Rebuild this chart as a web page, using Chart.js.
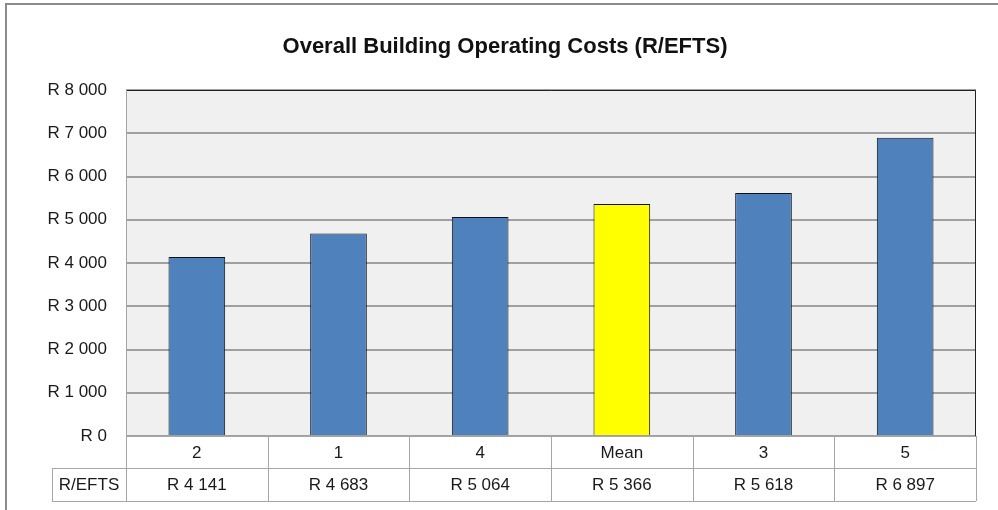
<!DOCTYPE html>
<html>
<head>
<meta charset="utf-8">
<script src="https://cdn.jsdelivr.net/npm/chart.js@4"></script>
<style>
  body { margin: 0; background: #fff; }
  #wrap { width: 998px; height: 510px; }
</style>
</head>
<body>
<div id="wrap"><canvas id="costChart" width="998" height="510"></canvas></div>
<script>
const categories = ['2', '1', '4', 'Mean', '3', '5'];
const costs = [4141, 4683, 5064, 5366, 5618, 6897];
const rowLabel = 'R/EFTS';
const yTicks = [0, 1000, 2000, 3000, 4000, 5000, 6000, 7000, 8000];

const FONT = "'Liberation Sans Narrow', 'Arial Narrow', 'Liberation Sans', Arial, sans-serif";

function rand(v) {
    // "R 5 366" style
    return 'R ' + String(v).replace(/\B(?=(\d{3})+(?!\d))/g, ' ');
}

const barColors = categories.map(c => c === 'Mean' ? '#ffff00' : '#4f81bd');

// plot background, outer frame and the data table under the axis
const tablePlugin = {
    id: 'tablePlugin',
    beforeDraw(chart) {
        const { ctx, chartArea: a } = chart;
        ctx.save();
        ctx.fillStyle = '#f0f0f0';
        ctx.fillRect(a.left, a.top, a.right - a.left, a.bottom - a.top);
        ctx.strokeStyle = '#8c8c8c';
        ctx.lineWidth = 2;
        ctx.beginPath();
        ctx.moveTo(6, 600);
        ctx.lineTo(6, 4);
        ctx.lineTo(1000, 4);
        ctx.stroke();
        ctx.restore();
    },
    afterDraw(chart) {
        const { ctx, chartArea: a } = chart;
        const x = chart.scales.x;
        const step = (a.right - a.left) / categories.length;
        const r1 = a.bottom, r2 = a.bottom + 32, r3 = a.bottom + 65;
        const hdrLeft = 52;
        ctx.save();
        ctx.strokeStyle = '#a6a6a6';
        ctx.lineWidth = 1;
        ctx.beginPath();
        ctx.moveTo(a.left, r1 + 0.5); ctx.lineTo(a.right, r1 + 0.5);
        ctx.moveTo(hdrLeft, r2 + 0.5); ctx.lineTo(a.right, r2 + 0.5);
        ctx.moveTo(hdrLeft, r3 + 0.5); ctx.lineTo(a.right, r3 + 0.5);
        ctx.moveTo(hdrLeft + 0.5, r2); ctx.lineTo(hdrLeft + 0.5, r3);
        for (let i = 0; i <= categories.length; i++) {
            const px = Math.round(a.left + i * step) + 0.5;
            ctx.moveTo(px, r1); ctx.lineTo(px, r3);
        }
        ctx.stroke();

        // plot border: dark top and right, grey left
        ctx.strokeStyle = '#222';
        ctx.beginPath();
        ctx.moveTo(a.left, a.top + 0.5); ctx.lineTo(a.right - 0.5, a.top + 0.5); ctx.lineTo(a.right - 0.5, a.bottom);
        ctx.stroke();
        ctx.strokeStyle = '#a6a6a6';
        ctx.beginPath();
        ctx.moveTo(a.left + 0.5, a.top); ctx.lineTo(a.left + 0.5, a.bottom);
        ctx.stroke();

        ctx.fillStyle = '#1a1a1a';
        ctx.font = '17px ' + FONT;
        ctx.textAlign = 'center';
        ctx.textBaseline = 'middle';
        categories.forEach((c, i) => {
            const cx = x.getPixelForValue(i);
            ctx.fillText(c, cx, (r1 + r2) / 2 + 1);
            ctx.fillText(rand(costs[i]), cx, (r2 + r3) / 2 + 1);
        });
        ctx.fillText(rowLabel, (hdrLeft + a.left) / 2, (r2 + r3) / 2 + 1);
        ctx.restore();
    }
};

new Chart(document.getElementById('costChart'), {
    type: 'bar',
    data: {
        labels: categories,
        datasets: [{
            label: rowLabel,
            data: costs,
            backgroundColor: barColors,
            borderColor: '#111',
            borderWidth: 1,
            categoryPercentage: 1,
            barPercentage: 0.4
        }]
    },
    options: {
        responsive: false,
        animation: false,
        layout: { padding: { left: 34, right: 22, top: 0, bottom: 8 } },
        plugins: {
            legend: { display: false },
            tooltip: { enabled: false },
            title: {
                display: true,
                text: 'Overall Building Operating Costs (R/EFTS)',
                color: '#111',
                font: { family: FONT, size: 22, weight: 'bold' },
                padding: { top: 34, bottom: 29.6 }
            }
        },
        scales: {
            x: {
                grid: { display: false, drawTicks: false },
                border: { display: false },
                ticks: { display: false },
                afterFit: s => { s.height = 66; }
            },
            y: {
                min: 0,
                max: 8000,
                afterBuildTicks: s => { s.ticks = yTicks.map(v => ({ value: v })); },
                grid: { color: '#a0a0a0', lineWidth: 2, drawTicks: false },
                border: { display: false },
                ticks: {
                    padding: 19,
                    color: '#1a1a1a',
                    font: { family: FONT, size: 17 },
                    callback: v => rand(v)
                },
                afterFit: s => { s.width = 92; }
            }
        }
    },
    plugins: [tablePlugin]
});
</script>
</body>
</html>
